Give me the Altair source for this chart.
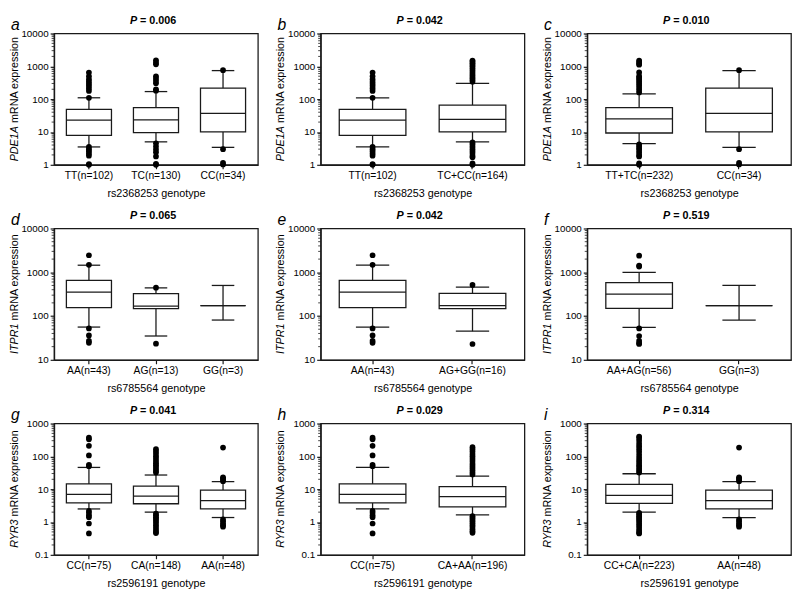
import altair as alt
import pandas as pd

FONT = "Liberation Sans"
LC = "#1a1a1a"

# Box statistics: [lower whisker, Q1, median, Q3, upper whisker]
# ---------------- PDE1A / rs2368253 ----------------
TT_BOX = [3.5, 7.9, 23, 49, 110]
TT_OUT = [645, 495, 400, 340, 290, 250, 212, 178, 110, 3.5, 3.0, 2.6, 2.2, 1.9, 1.05, 1.0]
TC_BOX = [5.0, 9.6, 23.5, 55, 170]
TC_OUT = [1520, 1300, 1150, 495, 420, 355, 305, 200, 180, 4.5, 3.6, 2.9, 2.4, 1.8, 1.07, 1.0]
CC_BOX = [3.4, 10.0, 37, 215, 740]
CC_OUT = [760, 3.0, 1.15, 1.02]
TCCC_BOX = [5.0, 10.0, 24, 66, 300]
TCCC_OUT = [1500, 1380, 1250, 1120, 1000, 880, 760, 650, 560, 490, 430, 380, 340,
            4.8, 4.2, 3.6, 3.1, 2.7, 2.3, 1.9, 1.7, 1.1, 1.0]
TTTC_BOX = [4.4, 9.3, 25, 55, 145]
TTTC_OUT = [1500, 1350, 1200, 1120, 650, 500, 450, 400, 350, 300, 260, 220, 190, 160,
            4.2, 3.7, 3.2, 2.8, 2.4, 2.0, 1.8, 1.1, 1.0]

# ---------------- ITPR1 / rs6785564 ----------------
AA_BOX = [56, 155, 350, 650, 1450]
AA_OUT = [2450, 1480, 52, 36, 27, 24.5]
AG_BOX = [35, 148, 168, 325, 440]
AG_OUT = [445, 23.4]
GG_BOX = [81, 172, 172, 172, 500]
GG_OUT = []
AGGG_BOX = [45, 148, 172, 330, 460]
AGGG_OUT = [515, 23]
AAAG_BOX = [55, 150, 316, 580, 990]
AAAG_OUT = [2400, 1420, 1350, 52, 35, 27, 24, 23]

# ---------------- RYR3 / rs2596191 ----------------
CCr_BOX = [2.5, 3.8, 6.9, 14.5, 46]
CCr_OUT = [370, 330, 210, 107, 55, 50, 2.2, 1.9, 1.6, 1.4, 0.9, 0.45]
CA_BOX = [2.0, 3.6, 6.1, 12.4, 27]
CA_OUT = [165, 140, 120, 100, 85, 72, 62, 54, 47, 41, 36, 32,
          1.8, 1.6, 1.4, 1.25, 1.1, 0.95, 0.8, 0.68, 0.58, 0.5, 0.46]
AAr_BOX = [1.37, 2.5, 4.5, 9.4, 17]
AAr_OUT = [185, 23, 21, 19, 17.5, 1.2, 1.05, 0.9, 0.8, 0.72]
CAAA_BOX = [1.65, 2.9, 5.9, 12, 25]
CAAA_OUT = [190, 165, 140, 118, 100, 85, 72, 60, 51, 44, 38, 32, 28,
            1.5, 1.35, 1.2, 1.05, 0.92, 0.8, 0.7, 0.6, 0.52, 0.47]
CCCA_BOX = [2.0, 3.7, 6.5, 14, 29.5]
CCCA_OUT = [400, 360, 300, 240, 200, 165, 135, 110, 90, 75, 63, 54, 47, 41, 36, 32,
            1.9, 1.7, 1.5, 1.35, 1.2, 1.05, 0.9, 0.78, 0.66, 0.56, 0.48, 0.45]

DOM_PDE = [1, 10000]
DOM_ITP = [10, 10000]
DOM_RYR = [0.1, 1000]
TICKS_PDE = [1, 10, 100, 1000, 10000]
TICKS_ITP = [10, 100, 1000, 10000]
TICKS_RYR = [0.1, 1, 10, 100, 1000]

PANELS = [
    ("a", "0.006", "PDE1A", "rs2368253", ["TT(n=102)", "TC(n=130)", "CC(n=34)"],
     [TT_BOX, TC_BOX, CC_BOX], [TT_OUT, TC_OUT, CC_OUT], DOM_PDE, TICKS_PDE),
    ("b", "0.042", "PDE1A", "rs2368253", ["TT(n=102)", "TC+CC(n=164)"],
     [TT_BOX, TCCC_BOX], [TT_OUT, TCCC_OUT], DOM_PDE, TICKS_PDE),
    ("c", "0.010", "PDE1A", "rs2368253", ["TT+TC(n=232)", "CC(n=34)"],
     [TTTC_BOX, CC_BOX], [TTTC_OUT, CC_OUT], DOM_PDE, TICKS_PDE),
    ("d", "0.065", "ITPR1", "rs6785564", ["AA(n=43)", "AG(n=13)", "GG(n=3)"],
     [AA_BOX, AG_BOX, GG_BOX], [AA_OUT, AG_OUT, GG_OUT], DOM_ITP, TICKS_ITP),
    ("e", "0.042", "ITPR1", "rs6785564", ["AA(n=43)", "AG+GG(n=16)"],
     [AA_BOX, AGGG_BOX], [AA_OUT, AGGG_OUT], DOM_ITP, TICKS_ITP),
    ("f", "0.519", "ITPR1", "rs6785564", ["AA+AG(n=56)", "GG(n=3)"],
     [AAAG_BOX, GG_BOX], [AAAG_OUT, GG_OUT], DOM_ITP, TICKS_ITP),
    ("g", "0.041", "RYR3", "rs2596191", ["CC(n=75)", "CA(n=148)", "AA(n=48)"],
     [CCr_BOX, CA_BOX, AAr_BOX], [CCr_OUT, CA_OUT, AAr_OUT], DOM_RYR, TICKS_RYR),
    ("h", "0.029", "RYR3", "rs2596191", ["CC(n=75)", "CA+AA(n=196)"],
     [CCr_BOX, CAAA_BOX], [CCr_OUT, CAAA_OUT], DOM_RYR, TICKS_RYR),
    ("i", "0.314", "RYR3", "rs2596191", ["CC+CA(n=223)", "AA(n=48)"],
     [CCCA_BOX, AAr_BOX], [CCCA_OUT, AAr_OUT], DOM_RYR, TICKS_RYR),
]

W = 208
H = 134
ONE = pd.DataFrame({"k": [0]})
CW = {"P": .667, "D": .722, "E": .667, "1": .556, "A": .667, "I": .278,
      "T": .611, "R": .722, "Y": .667, "3": .556}


def text_w(s, size):
    return sum(CW.get(ch, .556) for ch in s) * size


def minor_values(dom):
    vals = []
    d = dom[0]
    while d < dom[1]:
        for k in range(2, 10):
            v = d * k
            if v < dom[1]:
                vals.append(round(v, 6))
        d *= 10
    return vals


def make_panel(letter, p, gene, snp, labels, boxes, outs, dom, ticks):
    n = len(labels)
    box_w = 46 if n == 3 else 68
    cap_w = box_w / 2
    stats = pd.DataFrame({
        "g": labels,
        "lo": [b[0] for b in boxes],
        "q1": [b[1] for b in boxes],
        "med": [b[2] for b in boxes],
        "q3": [b[3] for b in boxes],
        "hi": [b[4] for b in boxes],
    })
    og, ov = [], []
    for lab, o in zip(labels, outs):
        og += [lab] * len(o)
        ov += list(o)
    outdf = pd.DataFrame({"g": og, "v": ov})
    minor = pd.DataFrame({"v": minor_values(dom)})

    xenc = alt.X("g:N", sort=labels,
                 scale=alt.Scale(type="band", paddingInner=0, paddingOuter=0.02),
                 axis=alt.Axis(title=f"{snp} genotype", labelAngle=0))
    ysc = alt.Scale(type="log", domain=dom, nice=False)
    yax = alt.Axis(values=ticks, format="~g", title=None)

    def Y(f):
        return alt.Y(f"{f}:Q", scale=ysc, axis=yax)

    base = alt.Chart(stats)
    wl = base.mark_rule(color=LC, strokeWidth=1.3).encode(x=xenc, y=Y("lo"), y2="q1:Q")
    wh = base.mark_rule(color=LC, strokeWidth=1.3).encode(x=xenc, y=Y("q3"), y2="hi:Q")
    cl = base.mark_tick(size=cap_w, thickness=1.3, color=LC, opacity=1).encode(x=xenc, y=Y("lo"))
    ch = base.mark_tick(size=cap_w, thickness=1.3, color=LC, opacity=1).encode(x=xenc, y=Y("hi"))
    box = base.mark_bar(size=box_w, fill="white", stroke=LC, strokeWidth=1.3, opacity=1).encode(
        x=xenc, y=Y("q1"), y2="q3:Q")
    med = base.mark_tick(size=box_w, thickness=1.3, color=LC, opacity=1).encode(x=xenc, y=Y("med"))
    pts = alt.Chart(outdf).mark_circle(size=34, color="black", opacity=1).encode(x=xenc, y=Y("v"))
    mn = alt.Chart(minor).mark_rule(color=LC, strokeWidth=0.8).encode(
        x=alt.value(-2.5), x2=alt.value(0), y=Y("v"))

    t = alt.Chart(ONE)
    lt = t.mark_text(text=letter, font=FONT, fontSize=16, fontStyle="italic",
                     align="left", baseline="alphabetic", color="black").encode(
        x=alt.value(-44), y=alt.value(-4))
    pw = text_w("P", 11) + 3
    tot = pw + text_w("= " + p, 11)
    px = W / 2 - tot / 2
    tp = t.mark_text(text="P", font=FONT, fontSize=11, fontWeight="bold", fontStyle="italic",
                     align="left", baseline="alphabetic", color="black").encode(
        x=alt.value(px), y=alt.value(-10))
    tr = t.mark_text(text="= " + p, font=FONT, fontSize=11, fontWeight="bold",
                     align="left", baseline="alphabetic", color="black").encode(
        x=alt.value(px + pw), y=alt.value(-10))
    gw = text_w(gene, 11)
    total = gw + 3 + 88
    yj = H / 2 + total / 2 - gw
    yg = t.mark_text(text=gene, font=FONT, fontSize=11, fontStyle="italic", angle=270,
                     align="right", baseline="middle", color="black").encode(
        x=alt.value(-40), y=alt.value(yj))
    yr = t.mark_text(text="mRNA expression", font=FONT, fontSize=11, angle=270,
                     align="left", baseline="middle", color="black").encode(
        x=alt.value(-40), y=alt.value(yj - 3))

    return alt.layer(mn, wl, wh, cl, ch, box, med, pts, lt, tp, tr, yg, yr).properties(
        width=W, height=H)


panels = [make_panel(*cfg) for cfg in PANELS]
rows = [alt.hconcat(*panels[i:i + 3], spacing=16) for i in (0, 3, 6)]
chart = alt.vconcat(*rows, spacing=9).properties(
    padding={"left": 0, "top": 0, "right": 0, "bottom": 0}
).configure_view(stroke=LC, strokeWidth=1.3).configure_axis(
    domainColor=LC, tickColor=LC, labelColor="black", titleColor="black",
    labelFont=FONT, titleFont=FONT, grid=False, domainWidth=1.3, tickWidth=1.2,
).configure_axisX(
    labelFontSize=10.5, titleFontSize=11, titleFontWeight="normal", tickSize=4,
    labelPadding=2, titlePadding=7,
).configure_axisY(
    labelFontSize=10, tickSize=4, labelPadding=2,
)

chart.save("out.html", embed_options={"renderer": "svg", "actions": False})
